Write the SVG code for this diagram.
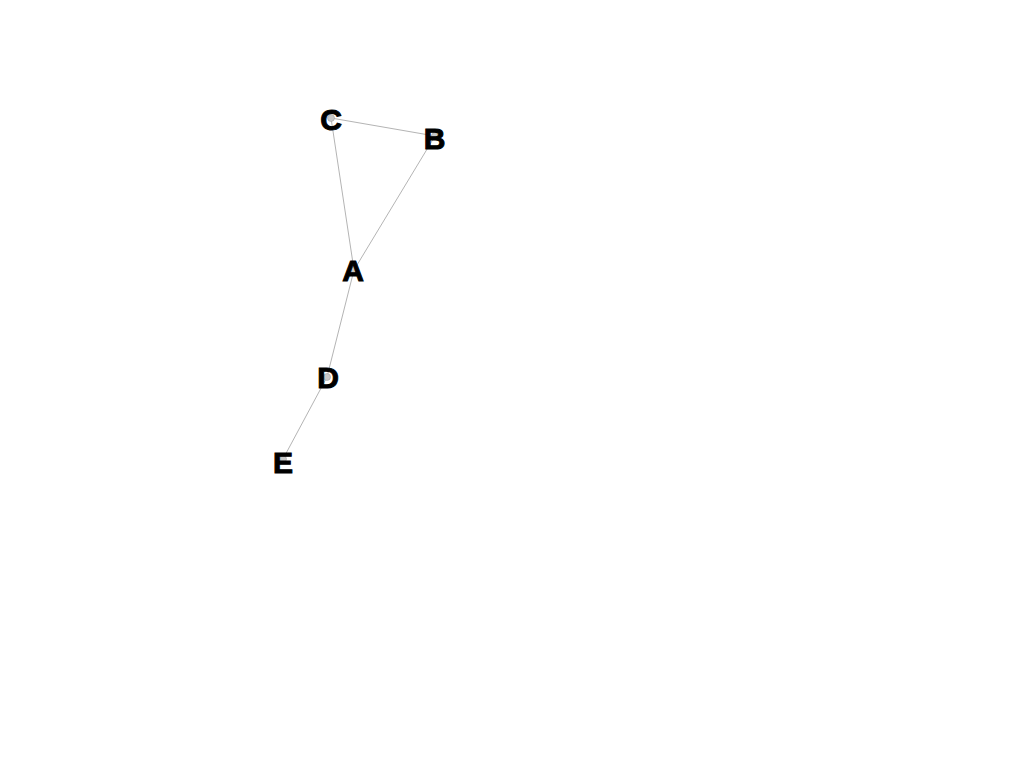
<svg xmlns="http://www.w3.org/2000/svg" width="1024" height="768" viewBox="0 0 1024 768">
<style>
.edge{stroke:#b4b4b4;stroke-width:1;fill:none}
.dot{fill:#c8c8c8;stroke:#999;stroke-width:0.5}
.lbl{font-family:"Liberation Sans",Arial,sans-serif;font-weight:bold;font-size:30px;fill:#000;stroke:#000;stroke-width:1;text-anchor:middle}
</style>
<rect width="1024" height="768" fill="#fff"/>
<g id="connectors">
<line class="edge" x1="331" y1="118" x2="435" y2="136"/>
<line class="edge" x1="331" y1="118" x2="354" y2="270"/>
<line class="edge" x1="435" y1="136" x2="354" y2="270"/>
<line class="edge" x1="354" y1="270" x2="327" y2="377"/>
<line class="edge" x1="327" y1="377" x2="283" y2="459"/>
</g>
<g id="node-C"><circle class="dot" cx="331" cy="118" r="3.5"/><text class="lbl" x="331" y="130">C</text></g>
<g id="node-B"><circle class="dot" cx="435" cy="136" r="3.5"/><text class="lbl" x="434.5" y="149">B</text></g>
<g id="node-A"><circle class="dot" cx="354" cy="270" r="3.5"/><text class="lbl" x="353" y="281">A</text></g>
<g id="node-D"><circle class="dot" cx="327" cy="377" r="3.5"/><text class="lbl" x="328" y="388">D</text></g>
<g id="node-E"><circle class="dot" cx="283" cy="459" r="3.5"/><text class="lbl" x="283" y="473">E</text></g>
</svg>
